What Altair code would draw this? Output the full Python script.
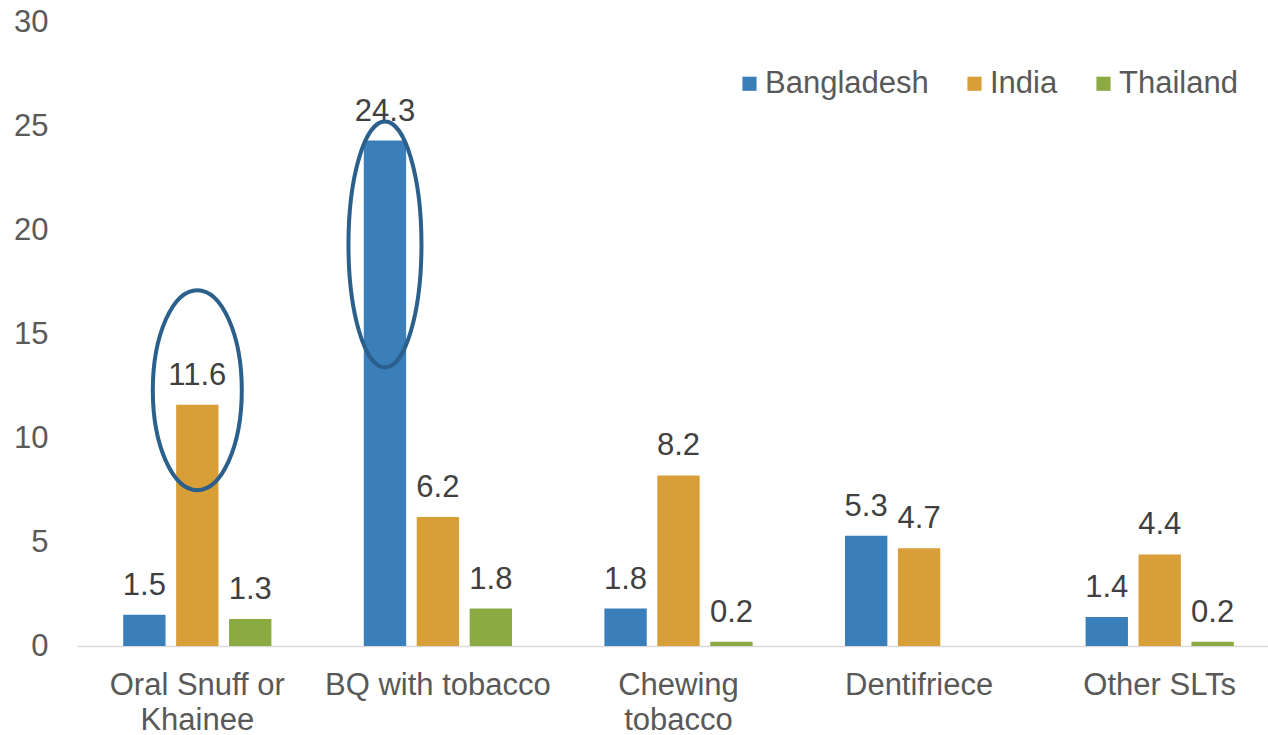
import altair as alt
import pandas as pd

# Smokeless tobacco use by product type (%)
categories = ["Oral Snuff or Khainee", "BQ with tobacco", "Chewing tobacco", "Dentifriece", "Other SLTs"]
countries = ["Bangladesh", "India", "Thailand"]
bangladesh = [1.5, 24.3, 1.8, 5.3, 1.4]
india = [11.6, 6.2, 8.2, 4.7, 4.4]
thailand = [1.3, 1.8, 0.2, None, 0.2]
colors = ["#3A7EBA", "#D89E38", "#8BAA42"]

rows = []
for i, cat in enumerate(categories):
    for country, series in zip(countries, [bangladesh, india, thailand]):
        if series[i] is not None:
            rows.append({"category": cat, "country": country, "value": series[i]})
df = pd.DataFrame(rows)

FONT = "Liberation Sans"
FS = 31

x_enc = alt.X(
    "category:N",
    sort=categories,
    scale=alt.Scale(domain=categories, range=[0, 1203], paddingInner=0.34, paddingOuter=0.17),
    axis=alt.Axis(
        title=None,
        labelAngle=0,
        ticks=False,
        domainColor="#D9D9D9",
        domainWidth=1.5,
        labelFont=FONT,
        labelFontSize=FS,
        labelColor="#595959",
        labelPadding=24,
        labelLineHeight=35,
        labelLimit=0,
        labelExpr="datum.value == 'Oral Snuff or Khainee' ? ['Oral Snuff or', 'Khainee'] : "
                  "datum.value == 'Chewing tobacco' ? ['Chewing', 'tobacco'] : datum.value",
    ),
)
xoff_enc = alt.XOffset(
    "country:N",
    sort=countries,
    scale=alt.Scale(domain=countries, paddingInner=0.2, paddingOuter=0.1),
)
y_enc = alt.Y(
    "value:Q",
    scale=alt.Scale(domain=[0, 30], nice=False),
    axis=alt.Axis(
        title=None,
        values=[0, 5, 10, 15, 20, 25, 30],
        grid=False,
        domain=False,
        ticks=False,
        labelFont=FONT,
        labelFontSize=FS,
        labelColor="#595959",
        labelPadding=29,
    ),
)

base = alt.Chart(df)

bars = base.mark_bar().encode(
    x=x_enc,
    xOffset=xoff_enc,
    y=y_enc,
    color=alt.Color(
        "country:N",
        sort=countries,
        scale=alt.Scale(domain=countries, range=colors),
        legend=alt.Legend(
            title=None,
            orient="none",
            direction="horizontal",
            legendX=657,
            legendY=46,
            symbolType="square",
            symbolSize=200,
            symbolStrokeWidth=0,
            labelFont=FONT,
            labelFontSize=FS,
            labelColor="#595959",
            labelOffset=0,
            columnPadding=30,
            labelLimit=0,
        ),
    ),
)

labels = base.mark_text(
    font=FONT, fontSize=FS, color="#404040", baseline="alphabetic", dy=-20
).encode(
    x=alt.X("category:N", sort=categories),
    xOffset=alt.XOffset("country:N", sort=countries),
    y="value:Q",
    text=alt.Text("value:Q", format=".1f"),
)

# Highlight rings around the two largest values
ring_cat = ["Oral Snuff or Khainee", "BQ with tobacco"]
ring_country = ["India", "Bangladesh"]
ring_center = [12.3, 19.3]
ring_half_height = [100, 123]
ring_half_width = [44.5, 36.5]
ring_shift = [-4, 4.5]

rings = []
for cat, ctry, yc, hh, hw, sh in zip(ring_cat, ring_country, ring_center,
                                     ring_half_height, ring_half_width, ring_shift):
    r = hw / hh
    path = f"M {-r} 0 A {r} 1 0 1 0 {r} 0 A {r} 1 0 1 0 {-r} 0 Z"
    ring_df = pd.DataFrame({"category": [cat], "country": [ctry], "value": [yc]})
    rings.append(
        alt.Chart(ring_df).mark_point(
            shape=path, size=(2 * hh) ** 2, filled=False,
            stroke="#2B5F8C", strokeWidth=4, opacity=1, dx=sh,
        ).encode(
            x=alt.X("category:N", sort=categories),
            xOffset=alt.XOffset("country:N", sort=countries),
            y="value:Q",
        )
    )

chart = alt.layer(bars, labels, *rings).properties(
    width=1191,
    height=624,
    autosize=alt.AutoSizeParams(type="none"),
    padding={"left": 77, "top": 22, "right": 0, "bottom": 89},
    background="white",
).configure_view(stroke=None)

chart.save("out.html", embed_options={"renderer": "svg", "actions": False})
